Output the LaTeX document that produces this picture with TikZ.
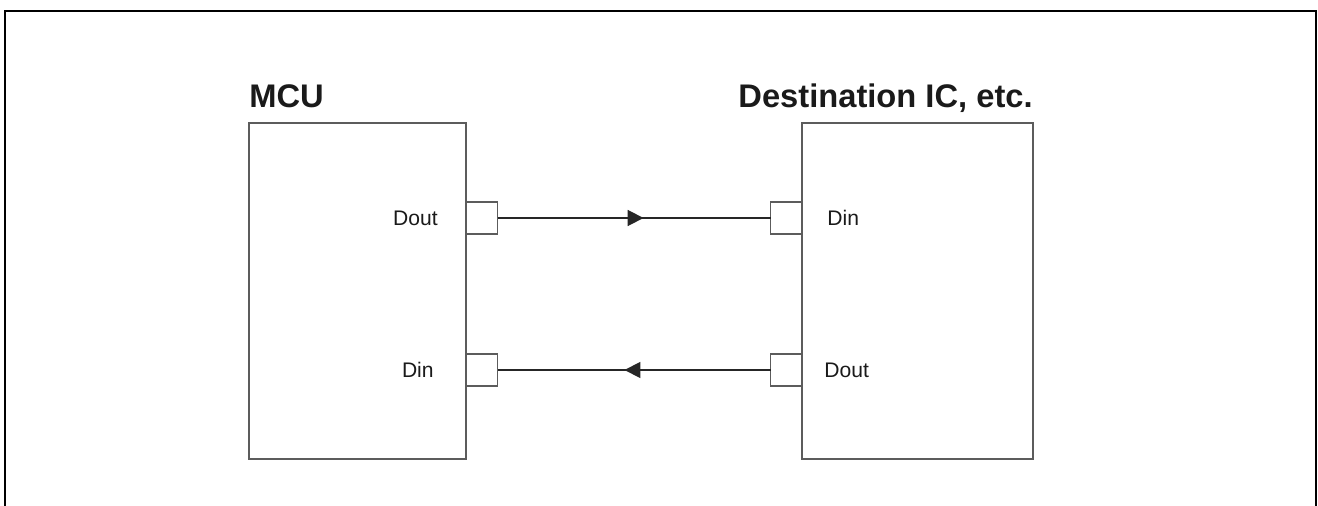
\documentclass[tikz,border=0pt]{standalone}
\usepackage{fontspec}
\setmainfont{Liberation Sans}
\usetikzlibrary{
  arrows.meta,
  positioning,
  calc,
  decorations.markings
}
\definecolor{ifEdge}{HTML}{5C5C5C}
\definecolor{ifWire}{HTML}{262626}
\definecolor{ifText}{HTML}{1A1A1A}
\tikzset{
  chip/.style={
    draw=ifEdge, line width=1.2pt, anchor=north west, outer sep=0pt,
    minimum width=43.4mm, minimum height=67.2mm
  },
  portbox/.style={
    draw=ifEdge, line width=1.1pt, fill=white, minimum size=6.3mm,
    inner sep=0pt, outer sep=0pt
  },
  portlabel/.style={font=\fontsize{12}{14}\selectfont, text=ifText, inner sep=0pt},
  chiptitle/.style={font=\fontsize{18.6}{22}\selectfont\bfseries, text=ifText, inner sep=0pt},
  signal/.style={
    line width=1pt, ifWire,
    decoration={markings,
      mark=at position 0.535 with {\arrow{Triangle[length=3.2mm, width=3.2mm]}}},
    postaction={decorate}
  },
  frame/.style={line width=1.2pt, black}
}
\begin{document}
\begin{tikzpicture}[x=0.2mm, y=-0.2mm]
  \useasboundingbox (0,0) rectangle (1318,506);
  \draw[frame] (5,506) -- (5,11) -- (1316,11) -- (1316,506);

  % the two devices
  \node[chip] (mcu) at (249,123) {};
  \node[chip, minimum width=46.2mm] (dst) at (802,123) {};
  \node[chiptitle, anchor=base west] (mcutitle) at ($(mcu.north west)+(0,-15)$) {MCU};
  \node[chiptitle, anchor=base east] (dsttitle) at ($(dst.north east)+(0,-15)$) {Destination IC, etc.};

  % port squares on the facing edges
  \node[portbox, anchor=west] (mcuout) at ($(mcu.north east)+(0,95)$) {};
  \node[portbox, anchor=west] (mcuin) at ($(mcu.north east)+(0,247)$) {};
  \node[portbox, anchor=east] (dstin) at ($(dst.north west)+(0,95)$) {};
  \node[portbox, anchor=east] (dstout) at ($(dst.north west)+(0,247)$) {};

  \node[portlabel, left=5.6mm of mcuout.west] (mcuoutlbl) {Dout};
  \node[portlabel, left=6.4mm of mcuin.west] (mcuinlbl) {Din};
  \node[portlabel, right=5mm of dstin.east] (dstinlbl) {Din};
  \node[portlabel, right=4.4mm of dstout.east] (dstoutlbl) {Dout};

  % data lines
  \draw[signal] (mcuout.east) -- (dstin.west);
  \draw[signal] (dstout.west) -- (mcuin.east);
\end{tikzpicture}
\end{document}
